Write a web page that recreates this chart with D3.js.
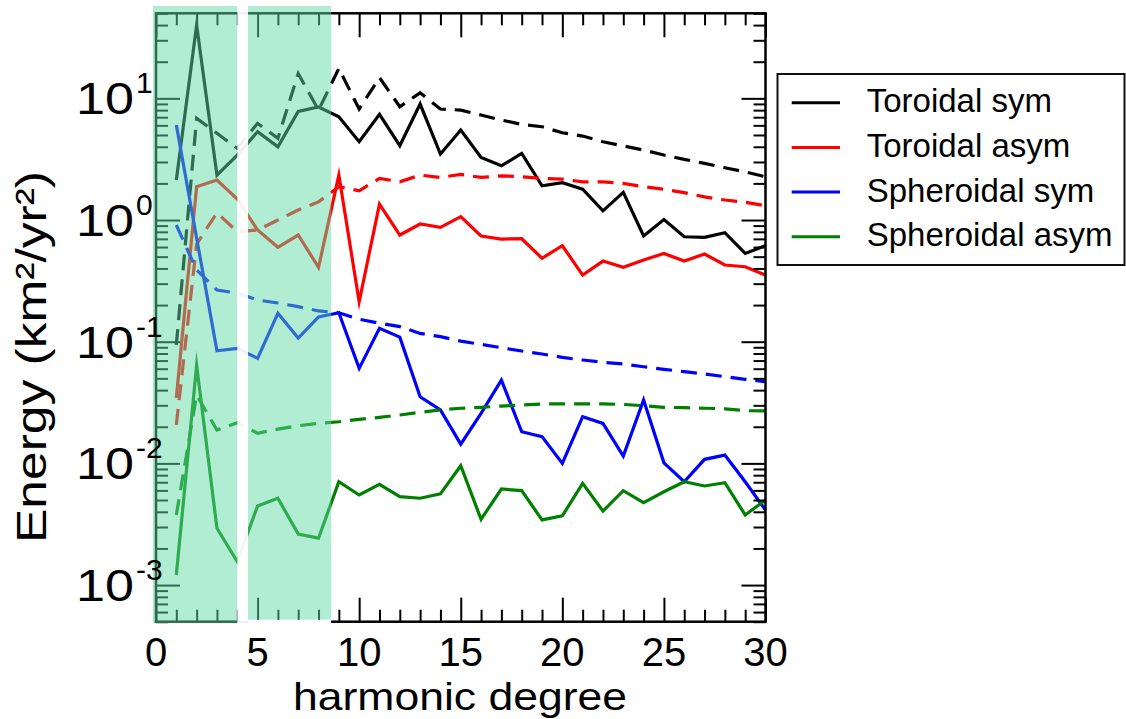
<!DOCTYPE html>
<html>
<head>
<meta charset="utf-8">
<script src="https://cdn.jsdelivr.net/npm/d3@7"></script>
<style>
  html, body { margin: 0; padding: 0; background: #fff; }
  svg { display: block; font-family: "Liberation Sans", Arial, Helvetica, sans-serif; }
</style>
</head>
<body>
<svg id="chart" width="1126" height="719"></svg>
<script>
// ---- data: kinetic energy spectra per harmonic degree ----
const degrees = d3.range(1, 31);

const toroidalSym = [2.13, 40.0, 2.34, 3.42, 5.32, 4.00, 7.8, 8.5, 7.06, 4.40,
  7.39, 4.08, 8.98, 3.49, 5.49, 3.27, 2.79, 3.53, 1.91, 2.03,
  1.79, 1.19, 1.69, 0.739, 1.01, 0.729, 0.721, 0.787, 0.532, 0.615];
const toroidalSymPrior = [0.094, 6.85, 5.16, 3.88, 6.23, 4.69, 16.0, 8.0, 17.6, 8.17,
  14.8, 8.53, 11.1, 8.17, 8.01, 7.29, 6.63, 6.11, 5.84, 5.22,
  4.90, 4.40, 4.06, 3.76, 3.42, 3.15, 2.92, 2.69, 2.49, 2.27];

const toroidalAsym = [0.0345, 1.88, 2.13, 1.49, 0.828, 0.597, 0.753, 0.409, 2.34, 0.213,
  1.35, 0.753, 0.927, 0.871, 1.065, 0.739, 0.698, 0.702, 0.485, 0.615,
  0.353, 0.460, 0.409, 0.469, 0.532, 0.460, 0.526, 0.427, 0.413, 0.353];
const toroidalAsymPrior = [0.0207, 0.635, 1.148, 0.802, 0.828, 1.0, 1.21, 1.41, 1.88, 1.74,
  2.20, 2.06, 2.34, 2.24, 2.37, 2.24, 2.31, 2.27, 2.20, 2.17,
  2.06, 2.06, 2.00, 1.88, 1.79, 1.68, 1.55, 1.46, 1.40, 1.31];

const spheroidalSym = [6.04, 0.711, 0.0843, 0.0882, 0.0730, 0.171, 0.107, 0.160, 0.173, 0.0604,
  0.129, 0.109, 0.0353, 0.0275, 0.0144, 0.0258, 0.0484, 0.0182, 0.0166, 0.0100,
  0.0242, 0.0213, 0.0115, 0.0332, 0.0101, 0.00707, 0.0108, 0.0117, 0.00707, 0.00414];
const spheroidalSymPrior = [0.91, 0.388, 0.266, 0.251, 0.220, 0.208, 0.194, 0.179, 0.173, 0.153,
  0.142, 0.133, 0.117, 0.110, 0.101, 0.0952, 0.0893, 0.0839, 0.0792, 0.0744,
  0.0707, 0.0677, 0.0656, 0.0623, 0.0593, 0.0567, 0.0543, 0.0516, 0.0491, 0.0469];

const spheroidalAsym = [0.00121, 0.0640, 0.00293, 0.00156, 0.00447, 0.00517, 0.00263, 0.00243, 0.00707, 0.00550,
  0.00673, 0.00533, 0.00517, 0.00561, 0.00957, 0.00347, 0.00616, 0.00597, 0.00343, 0.00370,
  0.00686, 0.00406, 0.00597, 0.00475, 0.00585, 0.00707, 0.00652, 0.00694, 0.00377, 0.00500];
const spheroidalAsymPrior = [0.00377, 0.0365, 0.0188, 0.0216, 0.0177, 0.0191, 0.0204, 0.0213, 0.0220, 0.0230,
  0.0239, 0.0250, 0.0263, 0.0275, 0.0284, 0.0289, 0.0296, 0.0302, 0.0308, 0.0308,
  0.0308, 0.0308, 0.0305, 0.0298, 0.0289, 0.0287, 0.0284, 0.0281, 0.0271, 0.0270];

const seriesNames = ["Toroidal sym", "Toroidal asym", "Spheroidal sym", "Spheroidal asym"];
const xTickLabels = [0, 5, 10, 15, 20, 25, 30];
const yTickExponents = [-3, -2, -1, 0, 1];

// ---- layout ----
const plot = { left: 156, right: 765.5, top: 13.3, bottom: 621.7 };
const colors = ["#000000", "#ff0000", "#0000ff", "#008000"];
const shadeBands = [[-0.15, 4.0], [4.53, 8.62]];   // low-degree bands, in degree units
const shadeGap = [4.0, 4.53];

const x = d3.scaleLinear().domain([0, 30]).range([plot.left, plot.right]);
const y = d3.scaleLog().domain([5e-4, 50]).range([plot.bottom, plot.top]);

const svg = d3.select("#chart");

const series = seriesNames.map((name, i) => ({
  name,
  color: colors[i],
  solid: [toroidalSym, toroidalAsym, spheroidalSym, spheroidalAsym][i],
  prior: [toroidalSymPrior, toroidalAsymPrior, spheroidalSymPrior, spheroidalAsymPrior][i]
}));

const line = d3.line()
  .x((d, i) => x(degrees[i]))
  .y(d => y(d));

// ---- spectra ----
const gLines = svg.append("g").attr("stroke-linejoin", "miter").attr("stroke-miterlimit", 10);
series.forEach(s => {
  gLines.append("path")
    .attr("d", line(s.prior))
    .attr("fill", "none")
    .attr("stroke", s.color)
    .attr("stroke-width", 3.2)
    .attr("stroke-dasharray", "16,9");
  gLines.append("path")
    .attr("d", line(s.solid))
    .attr("fill", "none")
    .attr("stroke", s.color)
    .attr("stroke-width", 3.2);
});

// ---- axes: inward ticks on all four sides ----
const yAll = y.ticks();
const isPow10 = v => Math.abs(Math.log10(v) - Math.round(Math.log10(v))) < 1e-9;
const yMajor = yAll.filter(isPow10);
const yMinor = yAll.filter(v => !isPow10(v));
const xMajor = xTickLabels;
const xMinor = d3.range(0, 31).filter(v => v % 5 !== 0);

function tickAxis(gen, values, size, tx, ty) {
  svg.append("g")
    .attr("transform", `translate(${tx},${ty})`)
    .call(gen.tickValues(values).tickSize(-size).tickFormat(""))
    .call(g => {
      g.select(".domain").remove();
      g.selectAll("line").attr("stroke", "#000").attr("stroke-width", 2);
    });
}
tickAxis(d3.axisLeft(y), yMajor, 24, plot.left, 0);
tickAxis(d3.axisLeft(y), yMinor, 12, plot.left, 0);
tickAxis(d3.axisRight(y), yMajor, 24, plot.right, 0);
tickAxis(d3.axisRight(y), yMinor, 12, plot.right, 0);
tickAxis(d3.axisBottom(x), xMajor, 24, 0, plot.bottom);
tickAxis(d3.axisBottom(x), xMinor, 12, 0, plot.bottom);
tickAxis(d3.axisTop(x), xMajor, 24, 0, plot.top);
tickAxis(d3.axisTop(x), xMinor, 12, 0, plot.top);

svg.append("rect")
  .attr("x", plot.left).attr("y", plot.top)
  .attr("width", plot.right - plot.left)
  .attr("height", plot.bottom - plot.top)
  .attr("fill", "none").attr("stroke", "#000").attr("stroke-width", 2.5);

// ---- translucent shading over the lowest degrees ----
// the second band stops just above the bottom frame, which is blanked there
svg.append("rect")
  .attr("x", x(shadeBands[1][0])).attr("y", plot.bottom - 2)
  .attr("width", x(shadeBands[1][1]) - x(shadeBands[1][0]))
  .attr("height", 6)
  .attr("fill", "#fff");
shadeBands.forEach((b, i) => {
  svg.append("rect")
    .attr("x", x(b[0])).attr("y", 6)
    .attr("width", x(b[1]) - x(b[0]))
    .attr("height", plot.bottom - 6 + (i === 0 ? 1.5 : -2))
    .attr("fill", "rgb(96,218,163)")
    .attr("fill-opacity", 0.49);
});
svg.append("rect")
  .attr("x", x(shadeGap[0])).attr("y", 0)
  .attr("width", x(shadeGap[1]) - x(shadeGap[0]))
  .attr("height", plot.bottom + 4)
  .attr("fill", "#fff").attr("fill-opacity", 0.94);

// ---- tick labels ----
svg.append("g").selectAll("text")
  .data(xTickLabels)
  .join("text")
  .attr("x", d => x(d))
  .attr("y", 666)
  .attr("text-anchor", "middle")
  .attr("font-size", 40)
  .text(d => d);

const yLab = svg.append("g").selectAll("g")
  .data(yTickExponents)
  .join("g")
  .attr("transform", e => `translate(0,${y(Math.pow(10, e))})`);
yLab.append("text")
  .attr("x", 76).attr("y", 16)
  .attr("font-size", 44)
  .attr("textLength", 58)
  .attr("lengthAdjust", "spacingAndGlyphs")
  .text("10");
yLab.append("text")
  .attr("x", 136).attr("y", -5)
  .attr("font-size", 30)
  .text(e => e < 0 ? "-" + Math.abs(e) : String(e));

// ---- axis titles ----
svg.append("text")
  .attr("x", 460).attr("y", 710)
  .attr("text-anchor", "middle")
  .attr("font-size", 39)
  .attr("textLength", 334)
  .attr("lengthAdjust", "spacingAndGlyphs")
  .text("harmonic degree");

svg.append("text")
  .attr("transform", "translate(46,357) rotate(-90)")
  .attr("text-anchor", "middle")
  .attr("font-size", 43)
  .attr("textLength", 372)
  .attr("lengthAdjust", "spacingAndGlyphs")
  .text("Energy (km²/yr²)");

// ---- legend ----
const legend = svg.append("g");
legend.append("rect")
  .attr("x", 777.5).attr("y", 74)
  .attr("width", 347).attr("height", 191)
  .attr("fill", "#fff").attr("stroke", "#111").attr("stroke-width", 2);
series.forEach((s, i) => {
  const cy = 102.7 + i * 44.7;
  legend.append("line")
    .attr("x1", 791.7).attr("x2", 840)
    .attr("y1", cy).attr("y2", cy)
    .attr("stroke", s.color).attr("stroke-width", 3);
  legend.append("text")
    .attr("x", 866.7).attr("y", cy + 9.5)
    .attr("font-size", 33)
    .text(s.name);
});
</script>
</body>
</html>
